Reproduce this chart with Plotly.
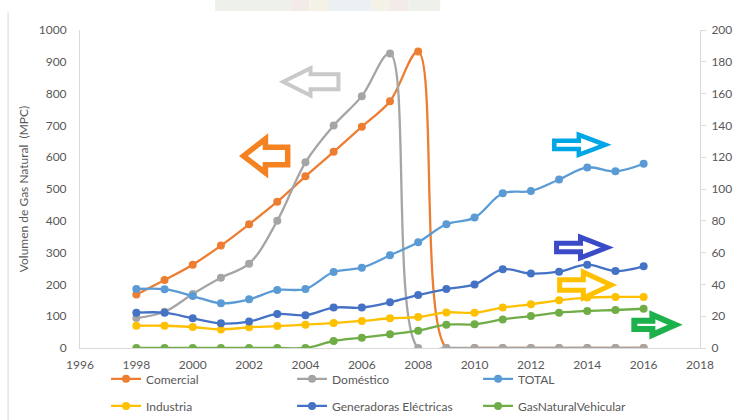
import plotly.graph_objects as go

# Consumo de gas natural por sector, 1998-2016
years = list(range(1998, 2017))

# Eje izquierdo (MPC)
comercial = [168, 214, 262, 322, 389, 460, 540, 617, 696, 776, 932,
             0, 0, 0, 0, 0, 0, 0, 0]
domestico = [94, 114, 170, 221, 265, 400, 584, 700, 792, 926, 0,
             0, 0, 0, 0, 0, 0, 0, 0]

# Eje derecho
total = [37.1, 37.0, 32.7, 28.1, 30.6, 36.5, 37.1, 47.8, 50.5, 58.3, 66.5,
         77.8, 82.0, 97.3, 98.7, 106.0, 113.6, 111.1, 115.9]
industria = [14.0, 14.0, 13.2, 11.7, 13.0, 13.8, 14.7, 15.7, 17.0, 18.7, 19.5,
             22.4, 22.2, 25.4, 27.5, 30.0, 31.7, 32.1, 32.1]
generadoras = [22.2, 22.2, 18.7, 15.5, 16.6, 21.4, 20.6, 25.4, 25.4, 28.7, 33.3,
               37.1, 40.0, 49.5, 46.8, 48.0, 52.4, 48.4, 51.4]
gnv = [0, 0, 0, 0, 0, 0, 0, 4.4, 6.5, 8.6, 10.9,
       14.7, 14.9, 18.0, 20.1, 22.2, 23.3, 23.9, 24.7]

series = [
    ("Comercial", comercial, "#ED7D31", "y", "legend"),
    ("Doméstico", domestico, "#A5A5A5", "y", "legend"),
    ("TOTAL", total, "#5B9BD5", "y2", "legend"),
    ("Industria", industria, "#FFC000", "y2", "legend2"),
    ("Generadoras Eléctricas", generadoras, "#4472C4", "y2", "legend2"),
    ("GasNaturalVehicular", gnv, "#70AD47", "y2", "legend2"),
]

FONT = "Lato"
GREY_TXT = "#595959"
AXIS_LINE = "#d9d9d9"

fig = go.Figure()
for name, vals, color, yax, leg in series:
    fig.add_trace(go.Scatter(
        x=years, y=vals, name=name, yaxis=yax, legend=leg,
        mode="lines+markers",
        line=dict(color=color, width=2.3, shape="spline", smoothing=1),
        marker=dict(color=color, size=8),
    ))

# Block arrows pointing to the axis each group of series is read on
# (tail x, head base x, tip x, centre y, head half-height, shaft half-height, colour, stroke)
arrows = [
    (2005.24, 2004.18, 2003.14, 837, 49.5, 30, "#c9c9c9", 4),
    (2003.44, 2002.58, 2001.73, 604, 60, 34, "#f58220", 5.5),
    (2012.76, 2013.70, 2014.71, 639, 38, 19.5, "#00a6e6", 4.5),
    (2012.84, 2013.76, 2014.77, 316, 39, 20, "#3b4bc8", 5),
    (2012.95, 2013.86, 2014.92, 198, 47, 23, "#ffc000", 5),
    (2015.60, 2016.31, 2017.19, 73, 38, 19.5, "#1db14b", 6),
]
IX, IY = 0.07, 6.5  # inset so the stroke stays inside the outer outline


def arrow_path(tail, base, tip, yc, hh, sh):
    d = 1 if tip > tail else -1
    tail = tail + d * IX
    tip = tip - d * IX
    hh -= IY
    sh -= IY
    pts = [(tail, yc + sh), (base, yc + sh), (base, yc + hh), (tip, yc),
           (base, yc - hh), (base, yc - sh), (tail, yc - sh)]
    return "M " + " L ".join(f"{x},{y}" for x, y in pts) + " Z"


shapes = []
for tail, base, tip, yc, hh, sh, col, w in arrows:
    shapes.append(dict(type="path", xref="x", yref="y",
                       path=arrow_path(tail, base, tip, yc, hh, sh),
                       line=dict(color=col, width=w), fillcolor="white",
                       layer="above"))

# faint header band and left frame line
band = [(0.218, 0.34, "#edf1ea"), (0.34, 0.37, "#f3ebe7"), (0.37, 0.40, "#f4f2e6"),
        (0.40, 0.47, "#ebf0f3"), (0.47, 0.50, "#f4f2e6"), (0.50, 0.53, "#f3ebe7"),
        (0.53, 0.581, "#edf1ea")]
for x0, x1, c in band:
    shapes.append(dict(type="rect", xref="paper", yref="paper",
                       x0=x0, x1=x1, y0=1.0597, y1=1.1, line=dict(width=0),
                       fillcolor=c, layer="below"))
shapes.append(dict(type="line", xref="paper", yref="paper",
                   x0=-0.116, x1=-0.116, y0=1.057, y1=-0.23,
                   line=dict(color=AXIS_LINE, width=1)))

tick_font = dict(family=FONT, size=12, color=GREY_TXT)
leg_common = dict(orientation="h", entrywidth=141, entrywidthmode="pixels",
                  font=dict(family=FONT, size=12, color=GREY_TXT),
                  bgcolor="rgba(0,0,0,0)", xanchor="left", yanchor="middle",
                  itemclick=False)

fig.update_layout(
    width=735, height=420,
    margin=dict(l=80, r=35, t=30, b=72, autoexpand=False),
    paper_bgcolor="white", plot_bgcolor="white",
    font=dict(family=FONT, color=GREY_TXT),
    xaxis=dict(range=[1996, 2018], dtick=2, tick0=1996, showgrid=False,
               zeroline=False, showline=True, linecolor=AXIS_LINE, linewidth=1,
               ticks="", tickfont=tick_font, ticklabelstandoff=6),
    yaxis=dict(range=[0, 1000], dtick=100, showgrid=False, zeroline=False,
               showline=True, linecolor=AXIS_LINE, linewidth=1, ticks="",
               tickfont=tick_font, ticklabelstandoff=10,
               title=dict(text="Volumen de Gas Natural  (MPC)",
                          font=dict(family=FONT, size=12, color=GREY_TXT),
                          standoff=7)),
    yaxis2=dict(range=[0, 200], dtick=20, overlaying="y", side="right",
                showgrid=False, zeroline=False, showline=True,
                linecolor=AXIS_LINE, linewidth=1, ticks="outside", ticklen=5,
                tickcolor=AXIS_LINE, tickfont=tick_font, ticklabelstandoff=3),
    legend=dict(x=0.042, y=-0.097, **leg_common),
    legend2=dict(x=0.042, y=-0.182, **leg_common),
    shapes=shapes,
    showlegend=True,
)

fig.write_html("out.html")
